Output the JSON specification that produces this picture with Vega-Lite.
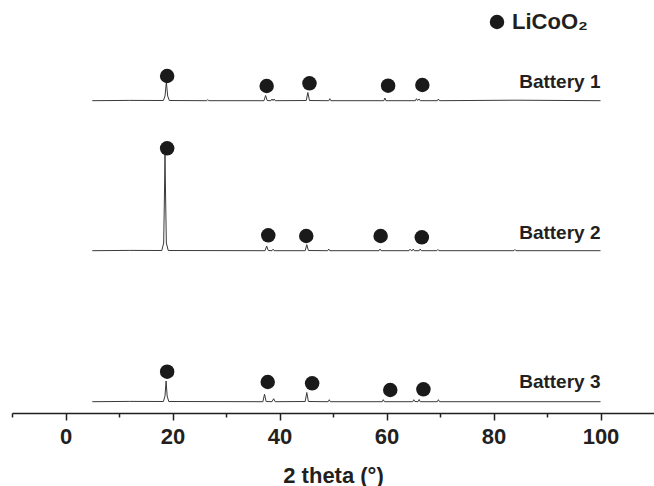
{
  "$schema": "https://vega.github.io/schema/vega-lite/v6.json",
  "width": 642,
  "height": 413,
  "autosize": {"type": "none"},
  "padding": {"left": 12, "top": 0, "right": 0, "bottom": 73},
  "background": "white",
  "config": {
    "view": {"stroke": null},
    "font": "Liberation Sans",
    "axis": {
      "domainColor": "#231f20",
      "domainWidth": 1.5,
      "tickColor": "#231f20",
      "tickWidth": 1.5,
      "grid": false,
      "labelFont": "Liberation Sans",
      "labelFontWeight": "bold",
      "labelFontSize": 22,
      "labelColor": "#231f20",
      "titleFont": "Liberation Sans",
      "titleFontWeight": "bold",
      "titleFontSize": 22,
      "titleColor": "#231f20"
    }
  },
  "datasets": {
    "patterns": [
      {"s": "Battery 1", "x": 5, "y": 312.3},
      {"s": "Battery 1", "x": 12.0, "y": 312.6},
      {"s": "Battery 1", "x": 18.3, "y": 312.5},
      {"s": "Battery 1", "x": 18.6, "y": 317},
      {"s": "Battery 1", "x": 18.85, "y": 331},
      {"s": "Battery 1", "x": 19.1, "y": 317},
      {"s": "Battery 1", "x": 19.4, "y": 312.5},
      {"s": "Battery 1", "x": 26.4, "y": 312.3},
      {"s": "Battery 1", "x": 26.6, "y": 313.3},
      {"s": "Battery 1", "x": 26.8, "y": 312.3},
      {"s": "Battery 1", "x": 37.1, "y": 312.3},
      {"s": "Battery 1", "x": 37.4, "y": 317.5},
      {"s": "Battery 1", "x": 37.7, "y": 312.5},
      {"s": "Battery 1", "x": 38.4, "y": 312.3},
      {"s": "Battery 1", "x": 38.6, "y": 314},
      {"s": "Battery 1", "x": 38.8, "y": 312.5},
      {"s": "Battery 1", "x": 39.0, "y": 314},
      {"s": "Battery 1", "x": 39.2, "y": 312.3},
      {"s": "Battery 1", "x": 45.0, "y": 312.5},
      {"s": "Battery 1", "x": 45.3, "y": 320.5},
      {"s": "Battery 1", "x": 45.6, "y": 312.5},
      {"s": "Battery 1", "x": 49.2, "y": 312.3},
      {"s": "Battery 1", "x": 49.4, "y": 314.3},
      {"s": "Battery 1", "x": 49.6, "y": 312.3},
      {"s": "Battery 1", "x": 59.5, "y": 312.3},
      {"s": "Battery 1", "x": 59.7, "y": 315},
      {"s": "Battery 1", "x": 59.9, "y": 312.3},
      {"s": "Battery 1", "x": 65.4, "y": 312.3},
      {"s": "Battery 1", "x": 65.6, "y": 314.3},
      {"s": "Battery 1", "x": 65.8, "y": 312.5},
      {"s": "Battery 1", "x": 66.1, "y": 314},
      {"s": "Battery 1", "x": 66.3, "y": 312.3},
      {"s": "Battery 1", "x": 69.5, "y": 312.3},
      {"s": "Battery 1", "x": 69.7, "y": 314},
      {"s": "Battery 1", "x": 69.9, "y": 312.3},
      {"s": "Battery 1", "x": 84.0, "y": 312.8},
      {"s": "Battery 1", "x": 100, "y": 312.3},
      {"s": "Battery 2", "x": 5, "y": 162.3},
      {"s": "Battery 2", "x": 12.0, "y": 162.6},
      {"s": "Battery 2", "x": 18.0, "y": 162.5},
      {"s": "Battery 2", "x": 18.35, "y": 170},
      {"s": "Battery 2", "x": 18.5, "y": 220},
      {"s": "Battery 2", "x": 18.6, "y": 258},
      {"s": "Battery 2", "x": 18.7, "y": 220},
      {"s": "Battery 2", "x": 18.85, "y": 170},
      {"s": "Battery 2", "x": 19.2, "y": 162.5},
      {"s": "Battery 2", "x": 37.3, "y": 162.3},
      {"s": "Battery 2", "x": 37.6, "y": 167},
      {"s": "Battery 2", "x": 37.9, "y": 162.5},
      {"s": "Battery 2", "x": 38.6, "y": 162.3},
      {"s": "Battery 2", "x": 38.8, "y": 163.8},
      {"s": "Battery 2", "x": 39.0, "y": 162.3},
      {"s": "Battery 2", "x": 44.8, "y": 162.3},
      {"s": "Battery 2", "x": 45.1, "y": 168.3},
      {"s": "Battery 2", "x": 45.4, "y": 162.5},
      {"s": "Battery 2", "x": 49.0, "y": 162.3},
      {"s": "Battery 2", "x": 49.2, "y": 164},
      {"s": "Battery 2", "x": 49.4, "y": 162.3},
      {"s": "Battery 2", "x": 58.6, "y": 162.3},
      {"s": "Battery 2", "x": 58.8, "y": 164},
      {"s": "Battery 2", "x": 59.0, "y": 162.3},
      {"s": "Battery 2", "x": 64.2, "y": 162.3},
      {"s": "Battery 2", "x": 64.4, "y": 163.8},
      {"s": "Battery 2", "x": 64.6, "y": 162.5},
      {"s": "Battery 2", "x": 64.8, "y": 162.3},
      {"s": "Battery 2", "x": 65.0, "y": 164},
      {"s": "Battery 2", "x": 65.2, "y": 162.3},
      {"s": "Battery 2", "x": 66.1, "y": 162.3},
      {"s": "Battery 2", "x": 66.3, "y": 164},
      {"s": "Battery 2", "x": 66.5, "y": 162.3},
      {"s": "Battery 2", "x": 69.4, "y": 162.3},
      {"s": "Battery 2", "x": 69.6, "y": 163.5},
      {"s": "Battery 2", "x": 69.8, "y": 162.3},
      {"s": "Battery 2", "x": 83.8, "y": 162.3},
      {"s": "Battery 2", "x": 84.0, "y": 163.5},
      {"s": "Battery 2", "x": 84.2, "y": 162.3},
      {"s": "Battery 2", "x": 100, "y": 162.3},
      {"s": "Battery 3", "x": 5, "y": 11.3},
      {"s": "Battery 3", "x": 12.0, "y": 11.6},
      {"s": "Battery 3", "x": 18.3, "y": 11.5},
      {"s": "Battery 3", "x": 18.6, "y": 17},
      {"s": "Battery 3", "x": 18.8, "y": 32},
      {"s": "Battery 3", "x": 19.0, "y": 17},
      {"s": "Battery 3", "x": 19.3, "y": 11.5},
      {"s": "Battery 3", "x": 36.9, "y": 11.3},
      {"s": "Battery 3", "x": 37.2, "y": 18.8},
      {"s": "Battery 3", "x": 37.5, "y": 11.5},
      {"s": "Battery 3", "x": 38.6, "y": 11.3},
      {"s": "Battery 3", "x": 38.9, "y": 14.3},
      {"s": "Battery 3", "x": 39.2, "y": 11.3},
      {"s": "Battery 3", "x": 44.8, "y": 11.5},
      {"s": "Battery 3", "x": 45.1, "y": 20.5},
      {"s": "Battery 3", "x": 45.4, "y": 11.5},
      {"s": "Battery 3", "x": 49.1, "y": 11.3},
      {"s": "Battery 3", "x": 49.3, "y": 13.3},
      {"s": "Battery 3", "x": 49.5, "y": 11.3},
      {"s": "Battery 3", "x": 59.2, "y": 11.3},
      {"s": "Battery 3", "x": 59.4, "y": 13.3},
      {"s": "Battery 3", "x": 59.6, "y": 11.3},
      {"s": "Battery 3", "x": 64.9, "y": 11.3},
      {"s": "Battery 3", "x": 65.1, "y": 13.3},
      {"s": "Battery 3", "x": 65.3, "y": 11.5},
      {"s": "Battery 3", "x": 65.9, "y": 11.3},
      {"s": "Battery 3", "x": 66.1, "y": 13.5},
      {"s": "Battery 3", "x": 66.3, "y": 11.3},
      {"s": "Battery 3", "x": 69.5, "y": 11.3},
      {"s": "Battery 3", "x": 69.7, "y": 13.3},
      {"s": "Battery 3", "x": 69.9, "y": 11.3},
      {"s": "Battery 3", "x": 100, "y": 11.3}
    ],
    "markers": [
      {"phase": "LiCoO₂", "s": "Battery 1", "x": 19.0, "y": 337},
      {"phase": "LiCoO₂", "s": "Battery 1", "x": 37.6, "y": 327},
      {"phase": "LiCoO₂", "s": "Battery 1", "x": 45.6, "y": 329.7},
      {"phase": "LiCoO₂", "s": "Battery 1", "x": 60.3, "y": 327.3},
      {"phase": "LiCoO₂", "s": "Battery 1", "x": 66.7, "y": 328},
      {"phase": "LiCoO₂", "s": "Battery 2", "x": 19.0, "y": 264.7},
      {"phase": "LiCoO₂", "s": "Battery 2", "x": 37.9, "y": 177.7},
      {"phase": "LiCoO₂", "s": "Battery 2", "x": 45.0, "y": 177},
      {"phase": "LiCoO₂", "s": "Battery 2", "x": 58.9, "y": 177},
      {"phase": "LiCoO₂", "s": "Battery 2", "x": 66.6, "y": 175.7},
      {"phase": "LiCoO₂", "s": "Battery 3", "x": 19.0, "y": 41.3},
      {"phase": "LiCoO₂", "s": "Battery 3", "x": 37.8, "y": 31},
      {"phase": "LiCoO₂", "s": "Battery 3", "x": 46.1, "y": 29.7},
      {"phase": "LiCoO₂", "s": "Battery 3", "x": 60.7, "y": 23},
      {"phase": "LiCoO₂", "s": "Battery 3", "x": 66.9, "y": 23.7}
    ],
    "labels": [
      {"s": "Battery 1", "x": 100, "y": 325.3},
      {"s": "Battery 2", "x": 100, "y": 173.7},
      {"s": "Battery 3", "x": 100, "y": 24.7}
    ]
  },
  "layer": [
    {
      "data": {"name": "patterns"},
      "mark": {"type": "line", "color": "#3a3a3a", "strokeWidth": 1, "interpolate": "linear"},
      "encoding": {
        "x": {
          "field": "x", "type": "quantitative",
          "scale": {"domain": [-10, 110], "nice": false, "zero": false},
          "axis": {
            "orient": "bottom",
            "values": [0, 20, 40, 60, 80, 100],
            "tickSize": 7,
            "labelPadding": 6,
            "title": "2 theta (°)",
            "titlePadding": 18
          }
        },
        "y": {
          "field": "y", "type": "quantitative",
          "scale": {"domain": [0, 413], "nice": false, "zero": false},
          "axis": null
        },
        "detail": {"field": "s"}
      }
    },
    {
      "data": {"name": "markers"},
      "mark": {"type": "point", "shape": "circle", "filled": true, "size": 210, "opacity": 1},
      "encoding": {
        "x": {
          "field": "x", "type": "quantitative",
          "axis": {
            "orient": "bottom",
            "values": [-10, 10, 30, 50, 70, 90],
            "tickSize": 4,
            "labels": false,
            "domain": false,
            "title": null
          }
        },
        "y": {"field": "y", "type": "quantitative", "axis": null},
        "fill": {
          "field": "phase", "type": "nominal",
          "scale": {"range": ["#1a1a1a"]},
          "legend": {
            "orient": "none",
            "legendX": 474,
            "legendY": 11,
            "title": null,
            "padding": 0,
            "symbolType": "circle",
            "symbolSize": 210,
            "symbolStrokeWidth": 0,
            "symbolFillColor": "#1a1a1a",
            "labelFont": "Liberation Sans",
            "labelFontWeight": "bold",
            "labelFontSize": 22,
            "labelColor": "#231f20",
            "labelOffset": 4
          }
        }
      }
    },
    {
      "data": {"name": "labels"},
      "mark": {"type": "text", "align": "right", "baseline": "alphabetic", "font": "Liberation Sans", "fontWeight": "bold", "fontSize": 19, "color": "#231f20"},
      "encoding": {
        "x": {"field": "x", "type": "quantitative", "axis": null},
        "y": {"field": "y", "type": "quantitative", "axis": null},
        "text": {"field": "s"}
      }
    }
  ],
  "resolve": {"axis": {"x": "independent"}}
}
